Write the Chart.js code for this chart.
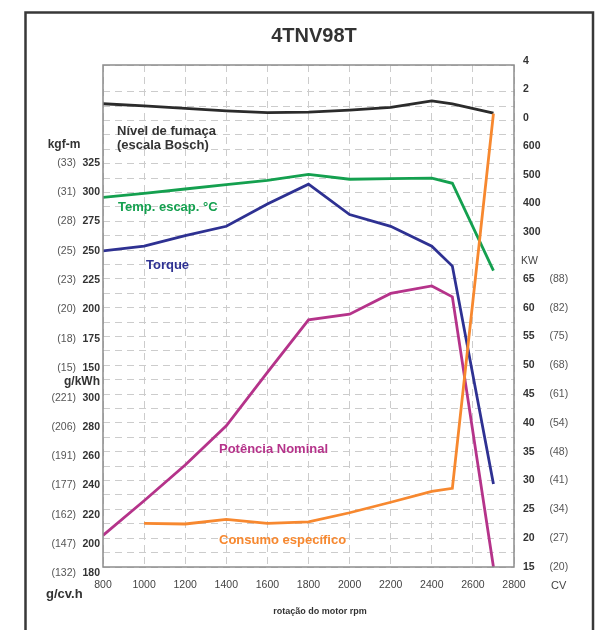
<!DOCTYPE html>
<html>
<head>
<meta charset="utf-8">
<script src="https://cdn.jsdelivr.net/npm/chart.js@4.4.1/dist/chart.umd.min.js"></script>
<style>
  html, body { margin: 0; padding: 0; background: #fff; }
  canvas { display: block; }
</style>
</head>
<body>
<canvas id="engineChart" width="602" height="630"></canvas>
<script>
// rotação do motor (rpm)
const rpm = [800, 1000, 1200, 1400, 1600, 1800, 2000, 2200, 2400, 2500, 2700];
const bsfcRpm = [1000, 1200, 1400, 1600, 1800, 2000, 2200, 2400, 2500, 2700];

// curves
const smoke = [1.0, 0.85, 0.68, 0.5, 0.38, 0.42, 0.56, 0.75, 1.2, 1.0, 0.35]; // escala Bosch
const exhaustTemp = [421, 435, 450, 465, 480, 501, 484, 486, 488, 470, 165]; // °C
const torque = [250, 254, 263, 271, 290, 307, 281, 271, 254, 237, 51]; // N.m
const power = [20.5, 26.5, 32.7, 39.5, 48.8, 57.9, 58.9, 62.5, 63.8, 61.9, 15]; // kW
const bsfc = [214, 213.6, 216.8, 214, 215, 221.3, 228.5, 236, 238, 495]; // g/kWh

// tick labels
const torqueTicks = [325, 300, 275, 250, 225, 200, 175, 150];
const torqueKgf = ['(33)', '(31)', '(28)', '(25)', '(23)', '(20)', '(18)', '(15)'];
const bsfcTicks = [300, 280, 260, 240, 220, 200, 180];
const bsfcCv = ['(221)', '(206)', '(191)', '(177)', '(162)', '(147)', '(132)'];
const smokeTicks = [4, 2, 0];
const tempTicks = [600, 500, 400, 300];
const powerTicks = [65, 60, 55, 50, 45, 40, 35, 30, 25, 20, 15];
const powerCv = ['(88)', '(82)', '(75)', '(68)', '(61)', '(54)', '(48)', '(41)', '(34)', '(27)', '(20)'];

const FONT = '"Liberation Sans", Arial, Helvetica, sans-serif';

const toPoints = (xs, ys) => xs.map((x, i) => ({ x: x, y: ys[i] }));

function txt(ctx, s, x, y, font, color, align) {
  ctx.font = font + ' ' + FONT;
  ctx.fillStyle = color;
  ctx.textAlign = align || 'left';
  ctx.textBaseline = 'middle';
  ctx.fillText(s, x, y);
}

// frames, axis labels and curve names
const sheetText = {
  id: 'sheetText',
  afterDraw(chart) {
    const { ctx, chartArea: a, scales: s } = chart;
    ctx.save();
    ctx.setLineDash([]);
    ctx.strokeStyle = '#8c8c8c';
    ctx.lineWidth = 1.5;
    ctx.strokeRect(a.left, a.top, a.right - a.left, a.bottom - a.top);
    ctx.strokeStyle = '#383838';
    ctx.lineWidth = 2.5;
    ctx.strokeRect(25.5, 12.5, 567.5, 660);

    txt(ctx, '4TNV98T', 314, 36, 'bold 20px', '#333', 'center');

    // left side
    torqueTicks.forEach((v, i) => {
      const y = s.yTorque.getPixelForValue(v);
      txt(ctx, torqueKgf[i], 76, y, '10.5px', '#555', 'right');
      txt(ctx, String(v), 100, y, 'bold 10.5px', '#333', 'right');
    });
    bsfcTicks.forEach((v, i) => {
      const y = s.yBsfc.getPixelForValue(v);
      txt(ctx, bsfcCv[i], 76, y, '10.5px', '#555', 'right');
      txt(ctx, String(v), 100, y, 'bold 10.5px', '#333', 'right');
    });
    txt(ctx, 'kgf-m', 64, 145, 'bold 12px', '#333', 'center');
    txt(ctx, 'g/kWh', 100, 382, 'bold 12px', '#333', 'right');
    txt(ctx, 'g/cv.h', 46, 594, 'bold 13px', '#333', 'left');

    // right side
    smokeTicks.forEach(v => {
      txt(ctx, String(v), 523, s.ySmoke.getPixelForValue(v), 'bold 10.5px', '#333', 'left');
    });
    tempTicks.forEach(v => {
      txt(ctx, String(v), 523, s.yTemp.getPixelForValue(v), 'bold 10.5px', '#333', 'left');
    });
    txt(ctx, 'KW', 521, 261.5, '10.5px', '#444', 'left');
    powerTicks.forEach((v, i) => {
      const y = s.yKw.getPixelForValue(v);
      txt(ctx, String(v), 523, y, 'bold 10.5px', '#333', 'left');
      txt(ctx, powerCv[i], 549.5, y, '10.5px', '#555', 'left');
    });
    txt(ctx, 'CV', 551, 586, '11px', '#444', 'left');
    txt(ctx, 'rotação do motor rpm', 320, 612, 'bold 9px', '#333', 'center');

    // curve names
    txt(ctx, 'Nível de fumaça', 117, 131.5, 'bold 13px', '#333', 'left');
    txt(ctx, '(escala Bosch)', 117, 145.5, 'bold 13px', '#333', 'left');
    txt(ctx, 'Temp. escap. °C', 118, 207.5, 'bold 13px', '#14a04f', 'left');
    txt(ctx, 'Torque', 146, 265.7, 'bold 13px', '#2e3192', 'left');
    txt(ctx, 'Potência Nominal', 219, 449, 'bold 13px', '#b5338a', 'left');
    txt(ctx, 'Consumo específico', 219, 540.7, 'bold 13px', '#f7882f', 'left');
    ctx.restore();
  }
};

const line = (data, axis, color) => ({
  data: data,
  yAxisID: axis,
  borderColor: color,
  borderWidth: 2.8,
  pointRadius: 0,
  tension: 0,
  fill: false
});

const ctx = document.getElementById('engineChart').getContext('2d');
const engineChart = new Chart(ctx, {
  type: 'line',
  data: {
    datasets: [
      line(toPoints(bsfcRpm, bsfc), 'yBsfc', '#f7882f'),
      line(toPoints(rpm, power), 'yKw', '#b5338a'),
      line(toPoints(rpm, torque), 'yTorque', '#2e3192'),
      line(toPoints(rpm, exhaustTemp), 'yTemp', '#14a04f'),
      line(toPoints(rpm, smoke), 'ySmoke', '#2b2b2b')
    ]
  },
  options: {
    responsive: false,
    animation: false,
    devicePixelRatio: 1,
    layout: { padding: { left: 103, top: 65, right: 88, bottom: 33 } },
    plugins: { legend: { display: false }, tooltip: { enabled: false } },
    scales: {
      x: {
        type: 'linear',
        min: 800,
        max: 2800,
        ticks: {
          stepSize: 200,
          padding: 12,
          color: '#444',
          font: { family: FONT, size: 10.5 },
          callback: (v) => String(v)
        },
        grid: { color: '#cccccc', lineWidth: 1, drawTicks: false },
        border: { display: false, dash: [7, 5] },
        afterFit: (scale) => { scale.height = 30; }
      },
      yKw: {
        position: 'right',
        min: 15,
        max: 102.15,
        ticks: { display: false, stepSize: 2.5, maxTicksLimit: 100 },
        grid: { color: '#cccccc', lineWidth: 1, drawTicks: false },
        border: { display: false, dash: [7, 5] },
        afterFit: (scale) => { scale.width = 0; }
      },
      yTorque: { display: false, min: -19.9, max: 408.7 },
      yBsfc: { display: false, min: 184.1, max: 528.3 },
      yTemp: { display: false, min: -868.6, max: 882.6 },
      ySmoke: { display: false, min: -31.5, max: 3.72 }
    }
  },
  plugins: [sheetText]
});
</script>
</body>
</html>
